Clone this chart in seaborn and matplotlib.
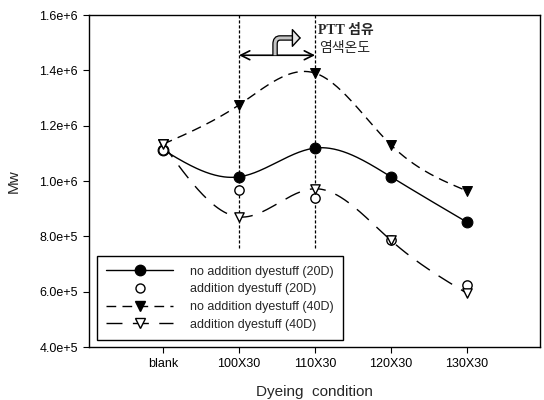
import numpy as np
import pandas as pd
import matplotlib
matplotlib.use('Agg')
import matplotlib.pyplot as plt
import seaborn as sns
from matplotlib.lines import Line2D
from matplotlib.path import Path
from matplotlib.patches import PathPatch

conditions = ['blank', '100X30', '110X30', '120X30', '130X30']
no_add_20d = [1.113e6, 1.015e6, 1.119e6, 1.015e6, 0.851e6]
add_20d = [1.113e6, 0.966e6, 0.938e6, 0.788e6, 0.624e6]
no_add_40d = [1.133e6, 1.275e6, 1.390e6, 1.130e6, 0.964e6]
add_40d = [1.133e6, 0.870e6, 0.972e6, 0.785e6, 0.594e6]

ytick_vals = [4e5, 6e5, 8e5, 1.0e6, 1.2e6, 1.4e6, 1.6e6]
ytick_labels = ['4.0e+5', '6.0e+5', '8.0e+5', '1.0e+6', '1.2e+6', '1.4e+6', '1.6e+6']

legend_labels = ['no addition dyestuff (20D)', 'addition dyestuff (20D)',
                 'no addition dyestuff (40D)', 'addition dyestuff (40D)']


def natural_spline(xs, ys, num=200):
    # smooth curve through the points (like the original SigmaPlot spline)
    x = np.asarray(xs, float)
    y = np.asarray(ys, float)
    n = len(x)
    h = np.diff(x)
    A = np.zeros((n, n))
    b = np.zeros(n)
    A[0, 0] = A[-1, -1] = 1
    for i in range(1, n - 1):
        A[i, i - 1] = h[i - 1]
        A[i, i] = 2 * (h[i - 1] + h[i])
        A[i, i + 1] = h[i]
        b[i] = 3 * ((y[i + 1] - y[i]) / h[i] - (y[i] - y[i - 1]) / h[i - 1])
    c = np.linalg.solve(A, b)
    bc = (y[1:] - y[:-1]) / h - h * (2 * c[:-1] + c[1:]) / 3
    d = (c[1:] - c[:-1]) / (3 * h)
    xx = np.linspace(x[0], x[-1], num)
    idx = np.clip(np.searchsorted(x, xx, side='right') - 1, 0, n - 2)
    dx = xx - x[idx]
    yy = y[idx] + bc[idx] * dx + c[idx] * dx ** 2 + d[idx] * dx ** 3
    return xx, yy


sns.set_style('ticks')
plt.rcParams['font.family'] = ['Liberation Sans', 'DejaVu Sans']

fig = plt.figure(figsize=(5.44, 4.0), dpi=100)
ax = fig.add_axes([89 / 544, 53 / 400, 451 / 544, 332 / 400])

pos = np.arange(len(conditions))

solid = '-'
dash40 = (0, (7, 4.5))
longdash = (0, (11.5, 7.5))

for vals, ls in [(no_add_20d, solid), (no_add_40d, dash40), (add_40d, longdash)]:
    xs, ys = natural_spline(pos, vals)
    sns.lineplot(x=xs, y=ys, ax=ax, color='black', lw=1.0, linestyle=ls,
                 estimator=None, sort=False, zorder=2)

sns.scatterplot(x=pos, y=no_add_20d, ax=ax, marker='o', s=60, color='black',
                edgecolor='black', linewidth=0.8, zorder=3)
sns.scatterplot(x=pos, y=no_add_40d, ax=ax, marker='v', s=50, color='black',
                edgecolor='black', linewidth=0.8, zorder=3)
sns.scatterplot(x=pos, y=add_20d, ax=ax, marker='o', s=45, color='white',
                edgecolor='black', linewidth=1.0, zorder=4)
sns.scatterplot(x=pos, y=add_40d, ax=ax, marker='v', s=45, color='white',
                edgecolor='black', linewidth=1.0, zorder=4)

# dyeing temperature range markers
ax.vlines([1, 2], 7.58e5, 1.6e6, colors='black', linestyles=[(0, (2.5, 1.5))], lw=0.9)
ax.annotate('', xy=(2, 1.4545e6), xytext=(1, 1.4545e6),
            arrowprops=dict(arrowstyle='<->', lw=1.2, color='black', mutation_scale=16,
                            shrinkA=0, shrinkB=0))

# bent arrow pointing to the PTT dyeing temperature
bend_y = 1.517e6
shaft = Path([(1.474, 1.4545e6), (1.474, bend_y - 2.2e4), (1.474, bend_y),
              (1.54, bend_y), (1.75, bend_y)],
             [Path.MOVETO, Path.LINETO, Path.CURVE3, Path.CURVE3, Path.LINETO])
ax.add_patch(PathPatch(shaft, fill=False, edgecolor='black', lw=4.0,
                       capstyle='butt', zorder=5))
ax.add_patch(PathPatch(shaft, fill=False, edgecolor='#c4c4c4', lw=2.2,
                       capstyle='butt', zorder=6))
ax.annotate('', xy=(1.815, bend_y), xytext=(1.73, bend_y),
            arrowprops=dict(arrowstyle='-|>,head_length=0.55,head_width=0.6',
                            lw=1.0, fc='#e6e6e6', ec='black', mutation_scale=10,
                            shrinkA=0, shrinkB=0), zorder=7)

ax.text(2.04, 1.545e6, 'PTT 섬유', family=['Liberation Serif', 'Noto Sans CJK KR'],
        fontsize=10, fontweight='bold', ha='left', va='center')
ax.text(2.06, 1.481e6, '염색온도', family=['Noto Sans CJK KR'],
        fontsize=10, ha='left', va='center')

ax.set_xlim(-0.974, 4.96)
ax.set_ylim(4e5, 1.6e6)
ax.set_xticks(pos)
ax.set_xticklabels(conditions)
ax.set_yticks(ytick_vals)
ax.set_yticklabels(ytick_labels)
ax.tick_params(direction='out', length=4, width=0.8, labelsize=9, colors='black', pad=4)
for sp in ax.spines.values():
    sp.set_visible(True)
    sp.set_color('black')
    sp.set_linewidth(1.0)

ax.set_xlabel('Dyeing  condition', fontsize=11, labelpad=11)
ax.set_ylabel('Mw', fontsize=11, labelpad=13)

handles = [
    Line2D([], [], color='black', lw=1.0, ls=solid, marker='o', ms=7.5, mfc='black', mec='black'),
    Line2D([], [], color='black', lw=0, marker='o', ms=6.5, mfc='white', mec='black'),
    Line2D([], [], color='black', lw=1.0, ls=dash40, marker='v', ms=7, mfc='black', mec='black'),
    Line2D([], [], color='black', lw=1.0, ls=longdash, marker='v', ms=6.5, mfc='white', mec='black'),
]
leg = ax.legend(handles, legend_labels, loc='lower left', bbox_to_anchor=(0.018, 0.021),
                borderaxespad=0, fontsize=9, frameon=True, fancybox=False, framealpha=1,
                edgecolor='black', handlelength=5.3, handletextpad=1.4, labelspacing=0.45,
                borderpad=0.75)
leg.get_frame().set_linewidth(1.0)

fig.savefig('out.png', dpi=100, facecolor='white')
